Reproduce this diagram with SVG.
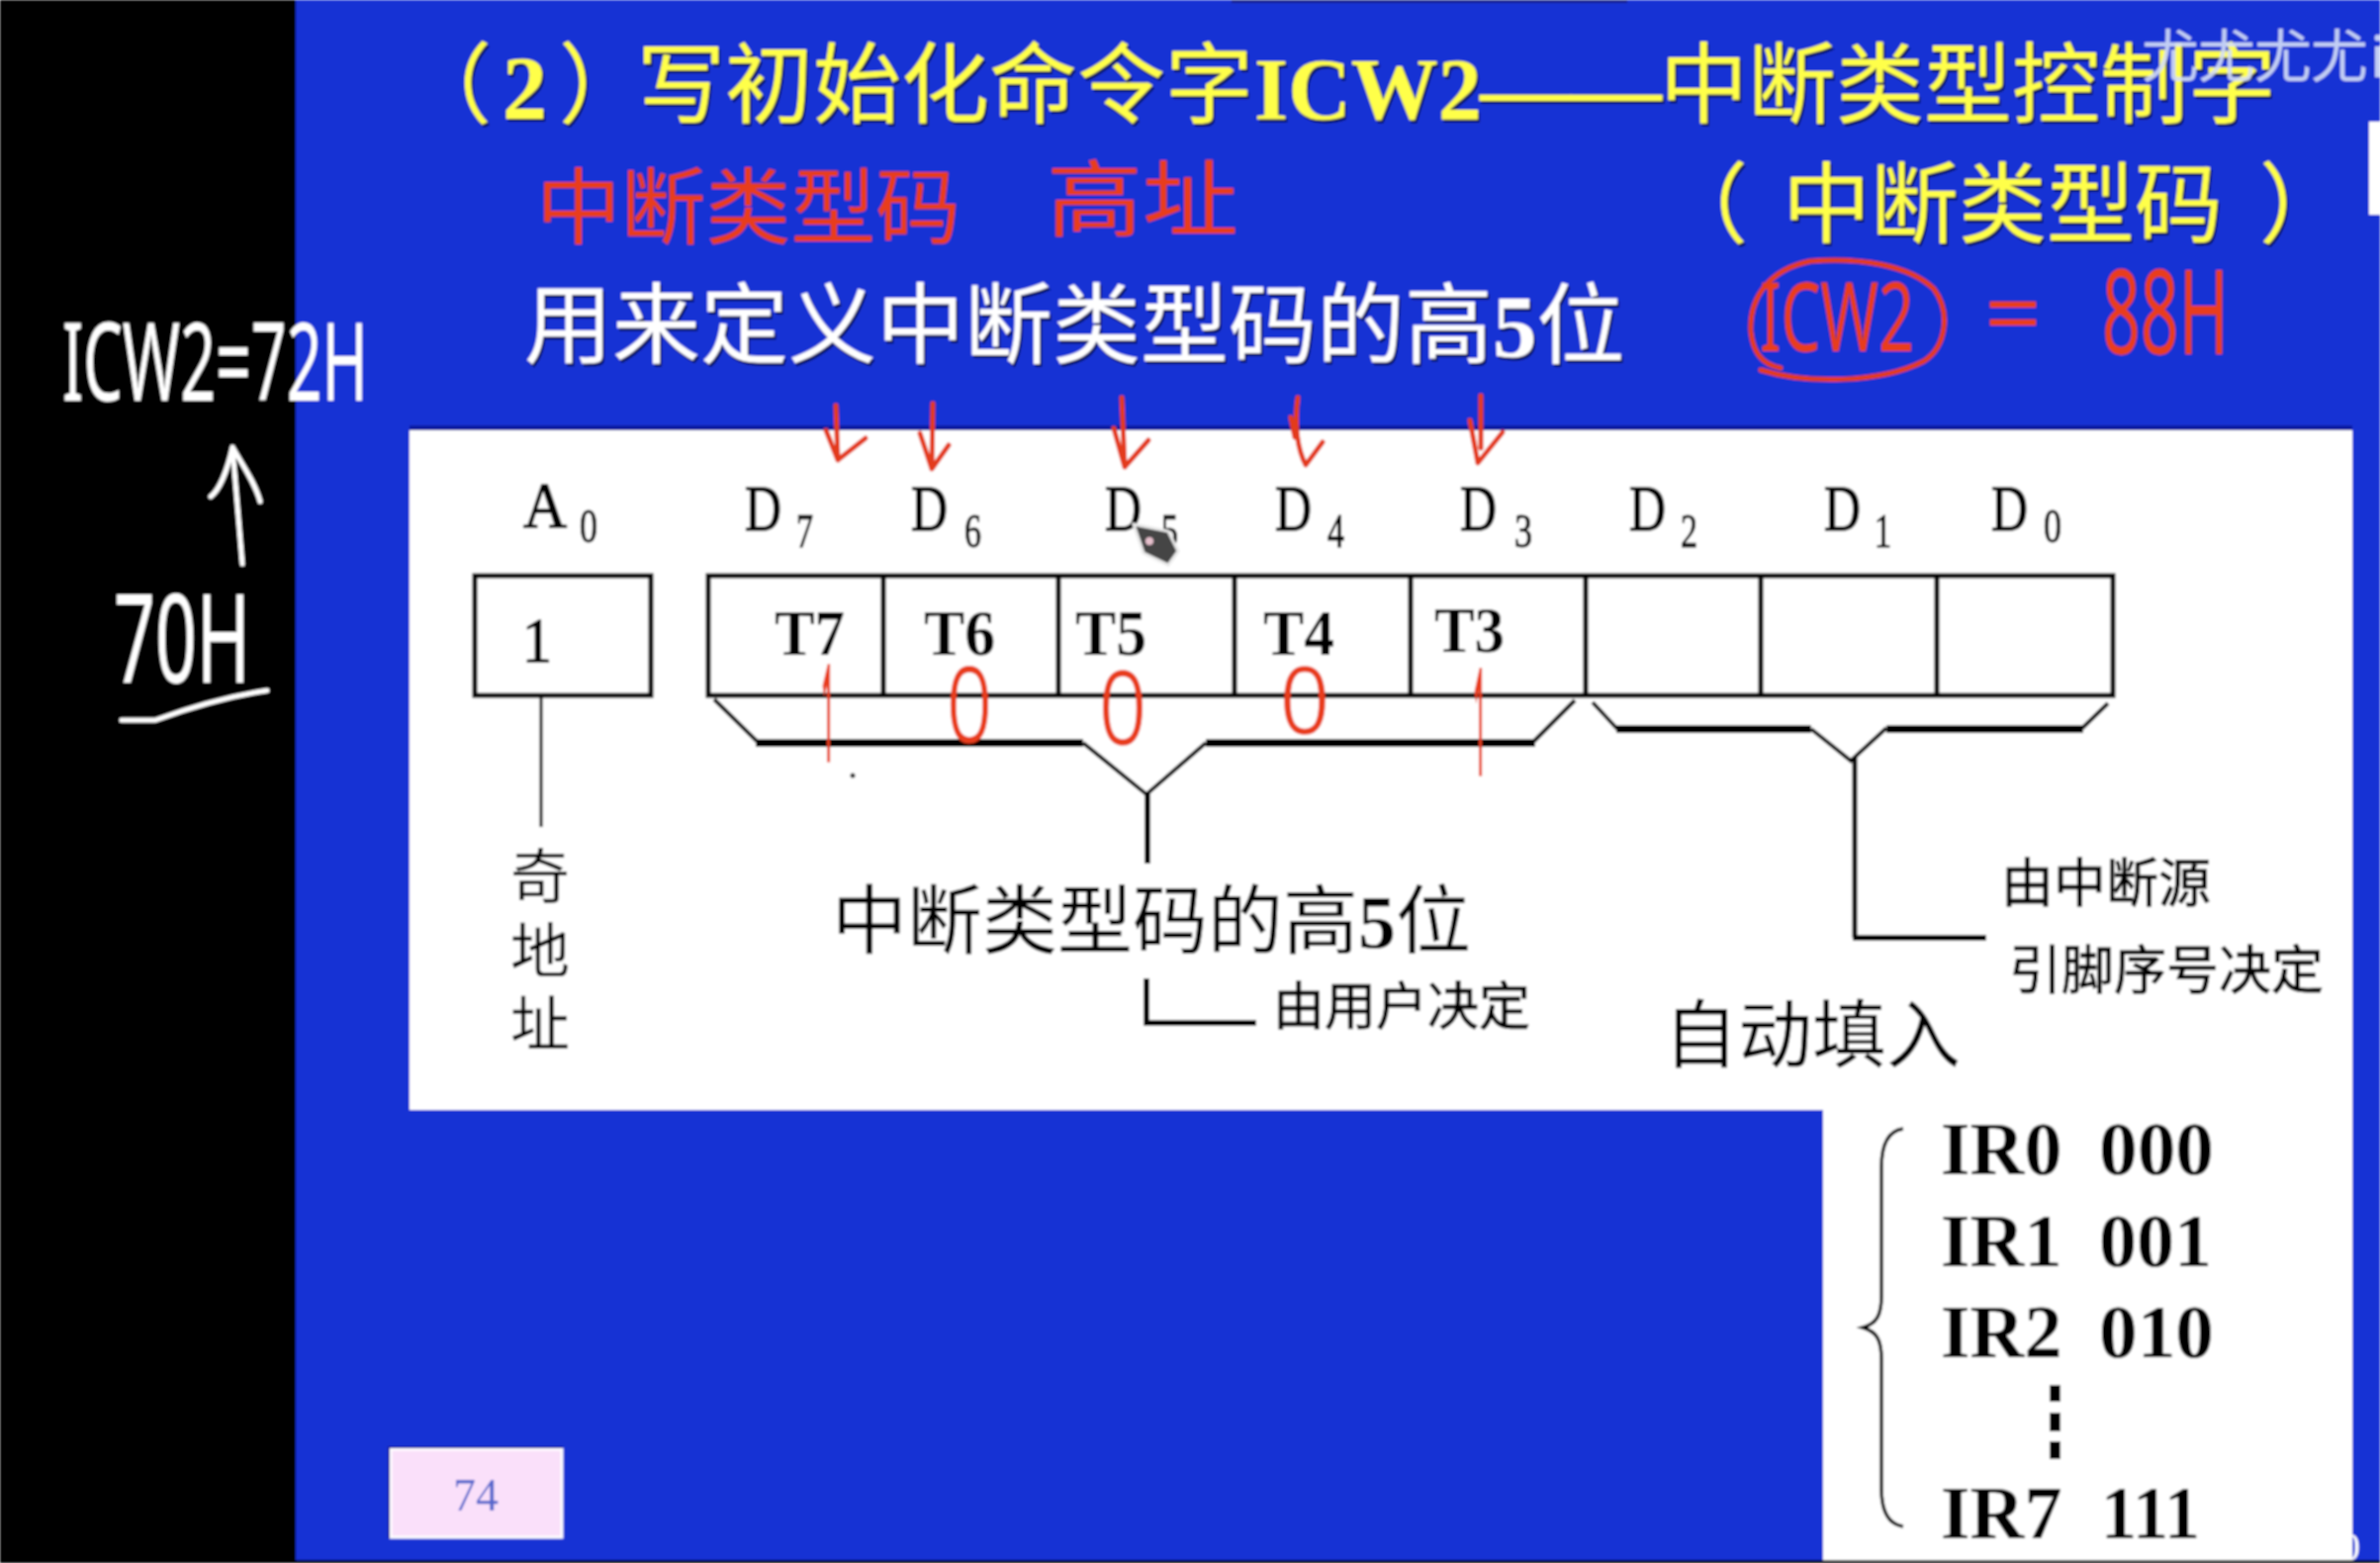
<svg xmlns="http://www.w3.org/2000/svg" width="2406" height="1580" viewBox="0 0 2406 1580">
<style>
.cjk{font-family:"Noto Sans CJK SC","Liberation Sans",sans-serif}
.ser{font-family:"Liberation Serif","Noto Sans CJK SC",serif}
.b{font-family:"Liberation Serif","Noto Sans CJK SC",serif;font-weight:700}
.title{fill:#ffff4a;font-size:89px;filter:drop-shadow(2px 3px 0 #0a1560)}
.sub{fill:#fff;font-size:89px;filter:drop-shadow(2px 3px 0 #0a1560)}
.k{fill:#000}
.bit{font-size:66px;font-weight:700;fill:#000}
.d{font-size:66px;fill:#000;stroke:#000;stroke-width:1.5}
.s{font-size:48px;fill:#000;stroke:#000;stroke-width:1.2}
.ir{font-size:76px;font-weight:700;fill:#000}
.box{fill:#fff;stroke:#000;stroke-width:5}
.div{stroke:#000;stroke-width:5;fill:none}
.thin{stroke:#000;stroke-width:3;fill:none}
.fork{stroke:#000;stroke-width:4;fill:none;stroke-linejoin:miter}
.stem{stroke:#000;stroke-width:6;fill:none}
.thick{stroke:#000;stroke-width:8;fill:none}
.red{fill:#e83c1e;font-family:"Noto Sans","Noto Sans CJK SC",sans-serif}
.digit{font-weight:300;stroke:#e83c1e;stroke-width:1.5}
.one{stroke:#e83c1e;stroke-width:5}
.redl{stroke:#e33a1e;stroke-width:5;fill:none;stroke-linecap:round;stroke-linejoin:round}
.wh{fill:#fff;font-family:"Noto Sans","Liberation Sans",sans-serif}
.whl{stroke:#fff;stroke-width:5;fill:none;stroke-linecap:round;stroke-linejoin:round}
</style>
<defs><filter id="soft" x="0" y="0" width="100%" height="100%"><feGaussianBlur stdDeviation="0.8"/></filter></defs>
<g filter="url(#soft)">
<rect width="2406" height="1580" fill="#1230d4"/>
<rect x="1245" y="0" width="400" height="3" fill="#14248c"/>
<rect x="0" y="0" width="299" height="1580" fill="#000"/>
<g id="slide-panel">
<rect x="414" y="430" width="1964" height="5" fill="#0a1ca0"/>
<path d="M414 435H2378V1577H1843V1122H414Z" fill="#fff"/>
<rect x="2395" y="123" width="11" height="94" fill="#fff"/>
</g>
<text class="ser" x="2366" y="1577" font-size="40" fill="#fff">0</text>

<g id="title">
<text class="cjk title" y="117"><tspan x="408">（</tspan><tspan class="b" x="508" y="120" font-size="90">2</tspan><tspan x="565" y="117">）</tspan><tspan x="644">写初始化命令字</tspan><tspan class="b" x="1268" y="120" font-size="88">ICW2</tspan><tspan class="b" x="1496" y="120" font-size="92">——</tspan><tspan x="1678" y="117">中断类型控制字</tspan></text>
<text class="cjk title" y="238"><tspan x="1678">（</tspan><tspan x="1802">中断类型码</tspan><tspan x="2284">）</tspan></text>
<text class="cjk sub" y="360" x="530">用来定义中断类型码的高<tspan class="b">5</tspan>位</text>
</g>

<g id="node-a0">
<text class="ser d" x="529" y="533" textLength="44" lengthAdjust="spacingAndGlyphs">A</text>
<text class="ser s" x="586" y="548" textLength="18" lengthAdjust="spacingAndGlyphs">0</text>
<rect class="box" x="480" y="582" width="178" height="121"/>
<text class="ser" x="528" y="669" font-size="64" textLength="30" lengthAdjust="spacingAndGlyphs" fill="#000" stroke="#000" stroke-width="1.5">1</text>
</g>

<g id="node-register">
<rect class="box" x="716" y="582" width="1420" height="121"/>
<path class="div" d="M893 582V703M1070 582V703M1248 582V703M1426 582V703M1603 582V703M1780 582V703M1958 582V703"/>
</g>
<g id="node-d7"><text class="ser d" x="753" y="536" textLength="37" lengthAdjust="spacingAndGlyphs">D</text><text class="ser s" x="805" y="553" textLength="17" lengthAdjust="spacingAndGlyphs">7</text><text class="b bit" x="783" y="662" textLength="71" lengthAdjust="spacingAndGlyphs">T7</text></g>
<g id="node-d6"><text class="ser d" x="921" y="536" textLength="37" lengthAdjust="spacingAndGlyphs">D</text><text class="ser s" x="975" y="553" textLength="17" lengthAdjust="spacingAndGlyphs">6</text><text class="b bit" x="934" y="662" textLength="72" lengthAdjust="spacingAndGlyphs">T6</text></g>
<g id="node-d5"><text class="ser d" x="1117" y="536" textLength="37" lengthAdjust="spacingAndGlyphs">D</text><text class="ser s" x="1174" y="553" textLength="17" lengthAdjust="spacingAndGlyphs">5</text><text class="b bit" x="1087" y="662" textLength="72" lengthAdjust="spacingAndGlyphs">T5</text></g>
<g id="node-d4"><text class="ser d" x="1289" y="536" textLength="37" lengthAdjust="spacingAndGlyphs">D</text><text class="ser s" x="1342" y="553" textLength="17" lengthAdjust="spacingAndGlyphs">4</text><text class="b bit" x="1277" y="662" textLength="72" lengthAdjust="spacingAndGlyphs">T4</text></g>
<g id="node-d3"><text class="ser d" x="1476" y="536" textLength="37" lengthAdjust="spacingAndGlyphs">D</text><text class="ser s" x="1531" y="553" textLength="18" lengthAdjust="spacingAndGlyphs">3</text><text class="b bit" x="1450" y="659" textLength="71" lengthAdjust="spacingAndGlyphs">T3</text></g>
<g id="node-d2"><text class="ser d" x="1647" y="536" textLength="37" lengthAdjust="spacingAndGlyphs">D</text><text class="ser s" x="1699" y="553" textLength="17" lengthAdjust="spacingAndGlyphs">2</text></g>
<g id="node-d1"><text class="ser d" x="1844" y="536" textLength="37" lengthAdjust="spacingAndGlyphs">D</text><text class="ser s" x="1895" y="553" textLength="17" lengthAdjust="spacingAndGlyphs">1</text></g>
<g id="node-d0"><text class="ser d" x="2013" y="536" textLength="37" lengthAdjust="spacingAndGlyphs">D</text><text class="ser s" x="2066" y="548" textLength="18" lengthAdjust="spacingAndGlyphs">0</text></g>

<g id="connectors">
<path class="thin" d="M547 703V836"/>
<path class="fork" d="M722 707L767 751"/><path class="thick" d="M764 751H1095"/><path class="fork" d="M1095 751L1159 803L1219 751"/><path class="thick" d="M1219 751H1552"/><path class="fork" d="M1549 751L1592 708"/>
<path class="stem" d="M1160 801V873"/>
<path class="stem" d="M1159 989V1034"/><path class="stem" d="M1156 1034H1270"/>
<path class="fork" d="M1610 710L1636 738"/><path class="thick" d="M1634 737H1831"/><path class="fork" d="M1831 737L1871 769L1907 736"/><path class="thick" d="M1907 737H2106"/><path class="fork" d="M2104 737L2131 711"/>
<path class="div" d="M1875 765V948"/><path class="stem" d="M1873 948H2008"/>
<path fill="none" stroke="#000" stroke-width="3.5" d="M1924 1141C1910 1143 1902 1155 1902 1180V1310C1902 1330 1897 1338 1883 1342C1897 1346 1902 1354 1902 1374V1505C1902 1530 1910 1541 1924 1543"/>
</g>

<g id="label-odd">
<text class="cjk k" x="516" y="908" font-size="60">奇</text>
<text class="cjk k" x="516" y="983" font-size="60">地</text>
<text class="cjk k" x="516" y="1057" font-size="60">址</text>
</g>
<g id="label-high5"><text class="cjk k" x="841" y="958" font-size="76">中断类型码的高<tspan class="b">5</tspan>位</text></g>
<g id="label-user"><text class="cjk k" x="1287" y="1036" font-size="52" stroke="#000" stroke-width=".8">由用户决定</text></g>
<g id="label-source">
<text class="cjk k" x="2023" y="912" font-size="53" stroke="#000" stroke-width=".8">由中断源</text>
<text class="cjk k" x="2031" y="1000" font-size="53" stroke="#000" stroke-width=".8">引脚序号决定</text>
</g>
<g id="label-auto"><text class="cjk k" x="1682" y="1073" font-size="75">自动填入</text></g>

<g id="ir-table">
<text class="ser ir" x="1962" y="1187">IR0</text><text class="ser ir" x="2122" y="1187" textLength="116" lengthAdjust="spacingAndGlyphs">000</text>
<text class="ser ir" x="1962" y="1280">IR1</text><text class="ser ir" x="2122" y="1280" textLength="114" lengthAdjust="spacingAndGlyphs">001</text>
<text class="ser ir" x="1962" y="1372">IR2</text><text class="ser ir" x="2122" y="1372" textLength="116" lengthAdjust="spacingAndGlyphs">010</text>
<rect x="2072" y="1400" width="11" height="17"/><rect x="2072" y="1428" width="11" height="19"/><rect x="2072" y="1457" width="11" height="18"/>
<text class="ser ir" x="1962" y="1555">IR7</text><text class="ser ir" x="2124" y="1555" textLength="100" lengthAdjust="spacingAndGlyphs">111</text>
</g>

<g id="page-number">
<rect x="395" y="1465" width="173" height="89" fill="#fae0fa" stroke="#fff" stroke-width="3"/>
<path d="M393 1555V1463H569" fill="none" stroke="#0a1ca0" stroke-width="2"/>
<text class="ser" x="458" y="1527" font-size="46" fill="#5566cc">74</text>
</g>

<g id="watermark" fill="#d5def8" class="cjk" font-size="58" opacity=".9">
<text x="2165" y="78">尤</text><text x="2222" y="78">尤</text><text x="2279" y="78">尤</text><text x="2336" y="78">尤</text><text x="2396" y="78" font-family="Noto Sans">i</text>
</g>

<g id="annotations-red">
<text class="red" x="542" y="240" font-size="84" textLength="429" lengthAdjust="spacingAndGlyphs">中断类型码</text>
<text class="red" x="1058" y="232" font-size="84" textLength="194" lengthAdjust="spacingAndGlyphs">高址</text>
<text class="red" x="1779" y="355" font-size="96" textLength="156" lengthAdjust="spacingAndGlyphs">ICW2</text>
<path class="redl" d="M1780 374C1825 388 1900 388 1945 365C1968 350 1972 315 1955 292C1930 268 1880 260 1830 264C1790 272 1768 300 1770 335C1772 355 1780 368 1800 372"/>
<text class="red" x="2006" y="348" font-size="90" textLength="58" lengthAdjust="spacingAndGlyphs">=</text>
<text class="red" x="2125" y="358" font-size="118" textLength="128" lengthAdjust="spacingAndGlyphs">88H</text>
<text class="red one" x="830" y="768" font-size="132" textLength="14" lengthAdjust="spacingAndGlyphs">1</text>
<text class="red one" x="1489" y="782" font-size="146" textLength="14" lengthAdjust="spacingAndGlyphs">1</text>
<text class="red digit" x="957" y="750" font-size="105" textLength="46" lengthAdjust="spacingAndGlyphs">0</text>
<text class="red digit" x="1111" y="752" font-size="102" textLength="48" lengthAdjust="spacingAndGlyphs">0</text>
<text class="red digit" x="1294" y="741" font-size="92" textLength="50" lengthAdjust="spacingAndGlyphs">0</text>
<path class="redl" d="M845 410L847 465M835 435L847 465L875 443"/>
<path class="redl" d="M943 408L942 474M930 438L942 474L959 450"/>
<path class="redl" d="M1134 402L1137 472M1126 433L1137 472L1161 445"/>
<path class="redl" d="M1312 402C1308 430 1312 455 1320 470L1337 447M1305 422L1309 442"/>
<path class="redl" d="M1497 400V453M1486 425L1494 468L1519 437"/>
</g>

<g id="annotations-white">
<text class="wh" x="63" y="405" font-size="110" textLength="309" lengthAdjust="spacingAndGlyphs">ICW2=72H</text>
<path class="whl" d="M245 570L235 452M213 502C222 495 230 475 235 452C245 470 258 488 263 507"/>
<text class="wh" x="115" y="690" font-size="125" textLength="138" lengthAdjust="spacingAndGlyphs">70H</text>
<path class="whl" d="M123 728H157C190 716 230 704 270 698"/>
</g>

<circle cx="862" cy="784" r="2.5" fill="#222"/>
<g id="cursor">
<path d="M1146 530L1181 537L1191 557L1181 571L1156 559Z" fill="#444" stroke="#e8e8e8" stroke-width="3"/>
<circle cx="1162" cy="547" r="4" fill="#e6c0cc"/>
</g>
<rect x="0" y="1577" width="2406" height="3" fill="#000"/>
</g>
</svg>
